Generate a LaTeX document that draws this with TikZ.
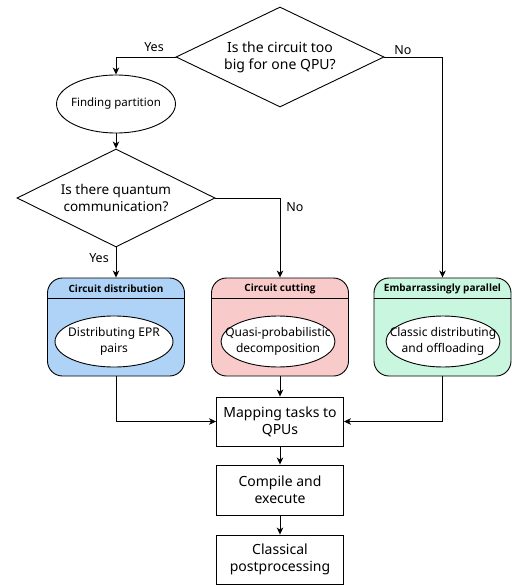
\documentclass[tikz,border=0pt]{standalone}
\usepackage{fontspec}
\setmainfont{Noto Sans}
\newfontfamily\headfont{Open Sans}
\usetikzlibrary{shapes.geometric,arrows.meta}
\definecolor{distblue}{RGB}{174,211,247}
\definecolor{cutred}{RGB}{248,202,202}
\definecolor{pargreen}{RGB}{200,246,222}
\begin{document}
\begin{tikzpicture}[x=1pt,y=-1pt,
  line width=0.9pt,
  every node/.style={font=\fontsize{12}{16.5}\selectfont, align=center, inner sep=0pt},
  decision/.style={diamond, draw, aspect=2.1, font=\fontsize{14}{17}\selectfont,
    minimum width=208pt, minimum height=100pt},
  % the text may reach close to the rim, so the size is set by the minimums
  oval/.style={ellipse, draw, fill=white, inner xsep=-22pt, inner ysep=-8pt,
    minimum width=#1, minimum height=51pt},
  process/.style={rectangle, draw, font=\fontsize{14}{17}\selectfont,
    minimum width=127pt, minimum height=49pt},
  method/.style={rectangle, draw, rounded corners=15pt, minimum width=137pt, minimum height=98pt, fill=#1},
  header/.style={font=\headfont\fontsize{10}{11}\selectfont\bfseries},
  lbl/.style={font=\fontsize{12.5}{14}\selectfont},
  flow/.style={-{Stealth[length=7pt,width=6.5pt,inset=2pt]}},
]
\useasboundingbox (0,0) rectangle (511,585);

% decisions and partition step
\node[decision] (big) at (280,57) {Is the circuit too\\big for one QPU?};
\node[oval=119pt, minimum height=58pt, font=\fontsize{11.5}{13}\selectfont] (part) at (116,104) {Finding partition};
\node[decision, font=\fontsize{13.5}{16.5}\selectfont, minimum width=198pt, minimum height=98pt] (comm) at (116,198) {Is there quantum\\communication?};

% the three approaches
\node[method=distblue] (dist) at (116,327) {};
\node[method=cutred] (cut) at (280,327) {};
\node[method=pargreen] (par) at (442.5,327) {};
\foreach \b in {dist,cut,par}
  \draw (\b.west |- 0,298) -- (\b.east |- 0,298);
\node[header] (distH) at (116,288.5) {Circuit distribution};
\node[header] (cutH) at (280,288.5) {Circuit cutting};
\node[header] (parH) at (442.5,288.5) {Embarrassingly parallel};
\node[oval=118pt] (epr) at (114,341.5) {Distributing EPR\\pairs};
\node[oval=114pt] (qpd) at (278,341.5) {Quasi-probabilistic\\decomposition};
\node[oval=114pt] (cdo) at (443,341.5) {Classic distributing\\and offloading};

% common pipeline
\node[process] (map) at (280,421.5) {Mapping tasks to\\QPUs};
\node[process, minimum height=50pt] (comp) at (280,490) {Compile and\\execute};
\node[process] (post) at (280,559.5) {Classical\\postprocessing};

% connectors
\draw[flow] (big.west) -| (part.north);
\draw[flow] (big.east) -| (par.north);
\draw[flow] (part) -- (comm);
\draw[flow] (comm.south) -- (dist.north);
\draw[flow] (comm.east) -| (cut.north);
\draw[flow] (dist.south) |- (map.west);
\draw[flow] (cut.south) -- (map.north);
\draw[flow] (par.south) |- (map.east);
\draw[flow] (map) -- (comp);
\draw[flow] (comp) -- (post);

% branch labels
\node[lbl] (yes1) at (154,47) {Yes};
\node[lbl] (no1) at (403,50) {No};
\node[lbl] (no2) at (295,207) {No};
\node[lbl] (yes2) at (99,258) {Yes};
\end{tikzpicture}
\end{document}
